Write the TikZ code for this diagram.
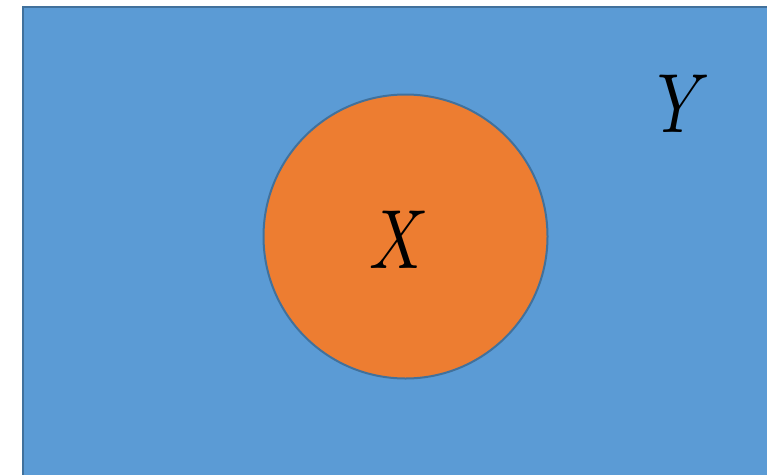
\documentclass[tikz,border=0pt]{standalone}
\usepackage{unicode-math}
\usepackage{tikz}
\usetikzlibrary{positioning}

\definecolor{setblue}{HTML}{5B9BD5}
\definecolor{setorange}{HTML}{ED7D31}
\definecolor{setline}{HTML}{41719C}

\newcommand{\setname}[1]{\scalebox{0.78}[1]{$#1$}}

\begin{document}
\begin{tikzpicture}[
    x=1pt, y=-1pt,
    universe/.style={rectangle, draw=setline, fill=setblue, line width=2pt, inner sep=0pt},
    subset/.style={circle, draw=setline, fill=setorange, line width=2pt, inner sep=0pt, minimum size=284pt},
    setlabel/.style={inner sep=0pt, font=\fontsize{84}{100}\selectfont}
]
\useasboundingbox (0,0) rectangle (767,474);
\clip (0,0) rectangle (767,474);
\node[universe, minimum width=760pt, minimum height=480pt, anchor=north west] (Y) at (22,6) {};
\node[subset] (X) at (405.5,236.5) {};
\node[setlabel] (xlabel) at (398,240) {\setname{X}};
\node[setlabel] (ylabel) at (683,104) {\setname{Y}};
\end{tikzpicture}
\end{document}
